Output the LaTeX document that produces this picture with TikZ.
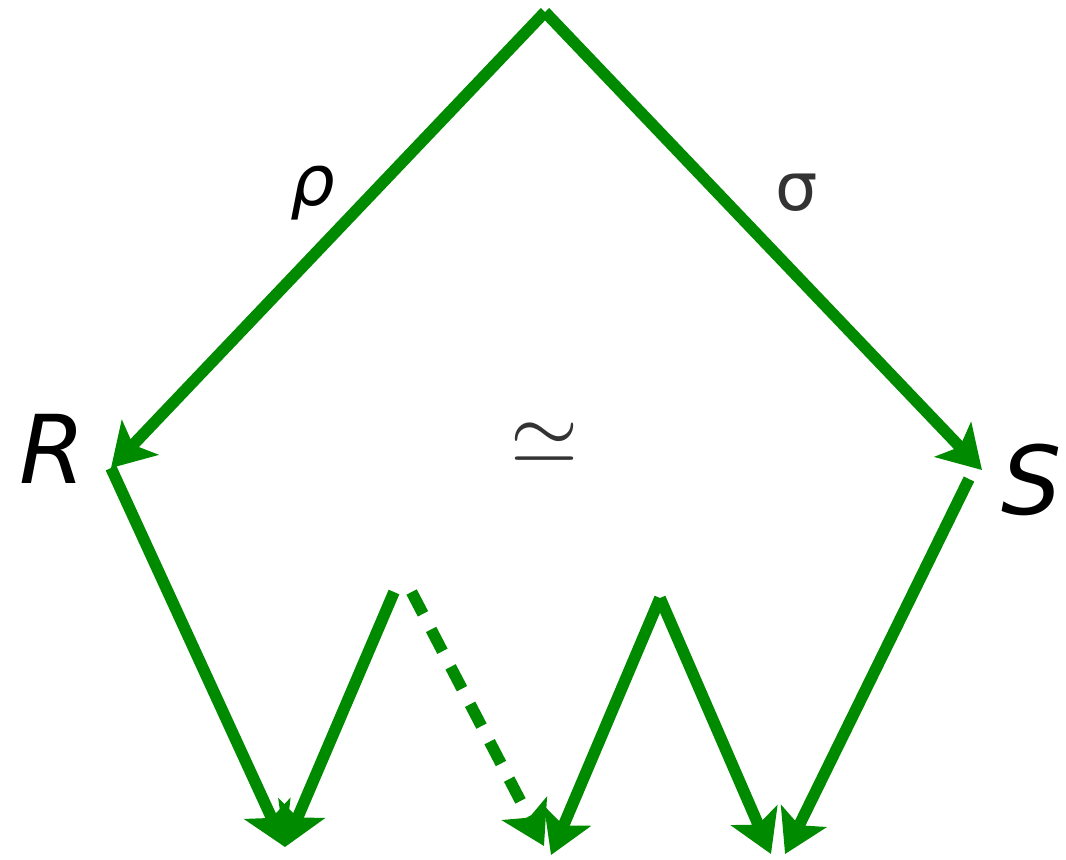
\documentclass[tikz,border=0pt]{standalone}
\usepackage{fontspec}
\setmainfont{DejaVu Sans}
\usetikzlibrary{arrows.meta}
\definecolor{spangreen}{HTML}{008A00}
\definecolor{spangray}{HTML}{333333}
\tikzset{
  % the green arrows of the zigzag
  span arrow/.style={
    draw=spangreen, line width=3.3pt,
    -{Stealth[length=0.42cm,width=0.5cm,inset=0.1cm]},
  },
  span dashed/.style={
    span arrow, dash pattern=on 7pt off 5pt,
  },
  % the two objects
  span object/.style={
    font=\fontsize{27}{30}\selectfont\itshape, inner sep=0pt,
  },
  % labels on the two legs
  span label/.style={
    font=\fontsize{19}{22}\selectfont, inner sep=0pt,
  },
}

\begin{document}
\begin{tikzpicture}[x=0.01cm,y=-0.01cm]
  \useasboundingbox (0,0) rectangle (1066,859);

  % ---- meeting points ------------------------------------------------------
  \coordinate (apex) at (545,12);
  \coordinate (rtip) at (111,468);
  \coordinate (stip) at (982,470);
  \coordinate (sfoot) at (969,479);
  \coordinate (peakl) at (394,592);
  \coordinate (peakr) at (660,598);
  \coordinate (lowl) at (285,847);
  \coordinate (lowm) at (544,846);
  \coordinate (lowmm) at (551,855);
  \coordinate (lowr) at (771,854);

  % ---- objects and labels --------------------------------------------------
  \node[span object] (R) at (52,449) {R};
  \node[span object] (S) at (1032,480) {S};
  \node[span label,font=\fontsize{20}{22}\selectfont\itshape] (rho) at (313,193) {ρ};
  \node[span label,text=spangray] (sigma) at (797,193) {σ};
  \node[font=\fontsize{34}{36}\selectfont,text=spangray,inner sep=0pt] (equiv) at (545,443) {$\simeq$};

  % ---- the roof ------------------------------------------------------------
  \draw[span arrow] (apex) -- (rtip);
  \draw[span arrow] (apex) -- (stip);

  % ---- the zigzag ----------------------------------------------------------
  \draw[span arrow] (rtip) -- (lowl);
  \draw[span arrow] (peakl) -- (lowl);
  \draw[span dashed] ([xshift=5]peakl) -- (lowm);
  \draw[span arrow] (peakr) -- (lowmm);
  \draw[span arrow] (peakr) -- (lowr);
  \draw[span arrow] (sfoot) -- ([xshift=4]lowr);

\end{tikzpicture}
\end{document}
